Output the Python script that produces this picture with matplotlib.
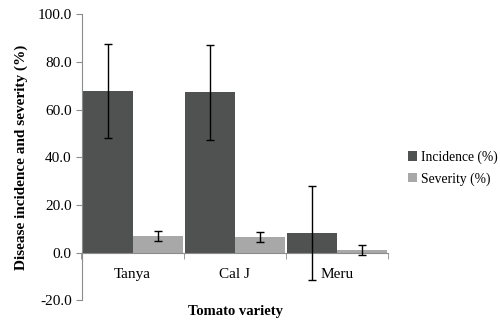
import matplotlib
matplotlib.use("Agg")
import matplotlib.pyplot as plt
import numpy as np

categories = ["Tanya", "Cal J", "Meru"]
incidence = [67.9, 67.2, 8.4]
incidence_err = [19.7, 19.9, 19.7]
severity = [7.0, 6.5, 1.2]
severity_err = [2.0, 2.2, 2.0]
yticks = [-20, 0, 20, 40, 60, 80, 100]

plt.rcParams['font.family'] = ['Liberation Serif', 'DejaVu Serif']

fig = plt.figure(figsize=(5, 3.2), dpi=100)
ax = fig.add_axes([0.163, 0.061, 0.613, 0.895])

x = np.arange(len(categories))
w = 0.49
dark = "#505251"
light = "#a8a8a8"
ax.bar(x - w/2, incidence, w, color=dark, label="Incidence (%)", zorder=2)
ax.bar(x + w/2, severity, w, color=light, label="Severity (%)", zorder=2)
ax.errorbar(x - w/2, incidence, yerr=incidence_err, fmt='none', ecolor='black',
            elinewidth=1.0, capsize=3, capthick=1.0, zorder=3)
ax.errorbar(x + w/2, severity, yerr=severity_err, fmt='none', ecolor='black',
            elinewidth=1.0, capsize=3, capthick=1.0, zorder=3)

ax.set_xlim(-0.5, 2.5)
ax.set_ylim(-20, 100)
ax.set_yticks(yticks)
ax.set_yticklabels([f"{v:.1f}" for v in yticks], fontsize=11)

axis_color = "#8c8c8c"
for s in ['top', 'right']:
    ax.spines[s].set_visible(False)
ax.spines['left'].set_color(axis_color)
ax.spines['bottom'].set_color(axis_color)
ax.spines['bottom'].set_position(('data', 0))
ax.spines['left'].set_linewidth(0.8)
ax.spines['bottom'].set_linewidth(0.8)

ax.tick_params(axis='y', direction='out', length=4, color=axis_color, pad=3)
ax.set_xticks(x)
ax.set_xticklabels(categories, fontsize=11)
ax.tick_params(axis='x', which='major', length=0, pad=11)
ax.set_xticks([-0.5, 0.5, 1.5, 2.5], minor=True)
ax.tick_params(axis='x', which='minor', direction='out', length=4, color=axis_color)

ax.set_ylabel("Disease incidence and severity (%)", fontsize=11, fontweight='bold', labelpad=7)
fig.text(0.47, 0.028, "Tomato variety", fontsize=10.5, fontweight='bold', ha='center', va='center')

fig.legend(loc='center left', bbox_to_anchor=(0.815, 0.475), frameon=False, fontsize=9.8,
           handlelength=0.7, handleheight=0.7, handletextpad=0.3, labelspacing=0.6,
           borderaxespad=0, borderpad=0)

fig.savefig("out.png", dpi=100)
